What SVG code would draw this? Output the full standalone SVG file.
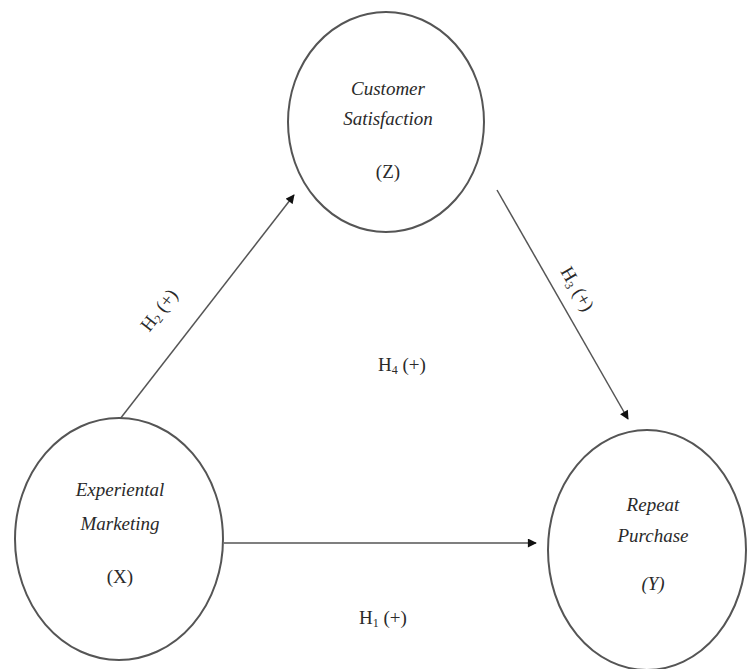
<svg xmlns="http://www.w3.org/2000/svg" width="748" height="669" viewBox="0 0 748 669">
<defs>
<marker id="ah" viewBox="0 0 10 10" refX="9" refY="5" markerWidth="10" markerHeight="9" orient="auto" markerUnits="userSpaceOnUse">
<path d="M0,0 L10,5 L0,10 z" fill="#111"/>
</marker>
<style>
.node{fill:#fff;stroke:#555;stroke-width:2}
.nt{font-family:"Liberation Serif",serif;font-style:italic;font-size:19px;fill:#2a2a2a;text-anchor:middle}
.vt{font-family:"Liberation Serif",serif;font-size:19px;fill:#2a2a2a;text-anchor:middle}
.lbl{font-family:"Liberation Serif",serif;font-size:19px;fill:#2a2a2a;text-anchor:middle}
.conn{stroke:#555;stroke-width:1.5;fill:none;marker-end:url(#ah)}
</style>
</defs>
<rect width="748" height="669" fill="#fff"/>
<g id="connectors">
<line class="conn" x1="120" y1="419" x2="294" y2="195"/>
<line class="conn" x1="497" y1="190" x2="628" y2="419"/>
<line class="conn" x1="224" y1="543" x2="536" y2="543"/>
</g>
<g id="node-z">
<ellipse class="node" cx="386" cy="122" rx="98" ry="110"/>
<text class="nt" x="388" y="95">Customer</text>
<text class="nt" x="388" y="125">Satisfaction</text>
<text class="vt" x="388" y="178">(Z)</text>
</g>
<g id="node-x">
<ellipse class="node" cx="119" cy="539" rx="104" ry="121"/>
<text class="nt" x="120" y="496">Experiental</text>
<text class="nt" x="120" y="530">Marketing</text>
<text class="vt" x="120" y="583">(X)</text>
</g>
<g id="node-y">
<ellipse class="node" cx="647" cy="550" rx="99" ry="120"/>
<text class="nt" x="653" y="511">Repeat</text>
<text class="nt" x="653" y="542">Purchase</text>
<text class="nt" x="653" y="590">(Y)</text>
</g>
<g id="labels">
<text class="lbl" transform="translate(164,314) rotate(-52)">H<tspan font-size="12" dy="3">2</tspan><tspan dy="-3"> (+)</tspan></text>
<text class="lbl" transform="translate(572,292) rotate(60)">H<tspan font-size="12" dy="3">3</tspan><tspan dy="-3"> (+)</tspan></text>
<text class="lbl" x="402" y="371">H<tspan font-size="12" dy="3">4</tspan><tspan dy="-3"> (+)</tspan></text>
<text class="lbl" x="383" y="624">H<tspan font-size="12" dy="3">1</tspan><tspan dy="-3"> (+)</tspan></text>
</g>
</svg>
